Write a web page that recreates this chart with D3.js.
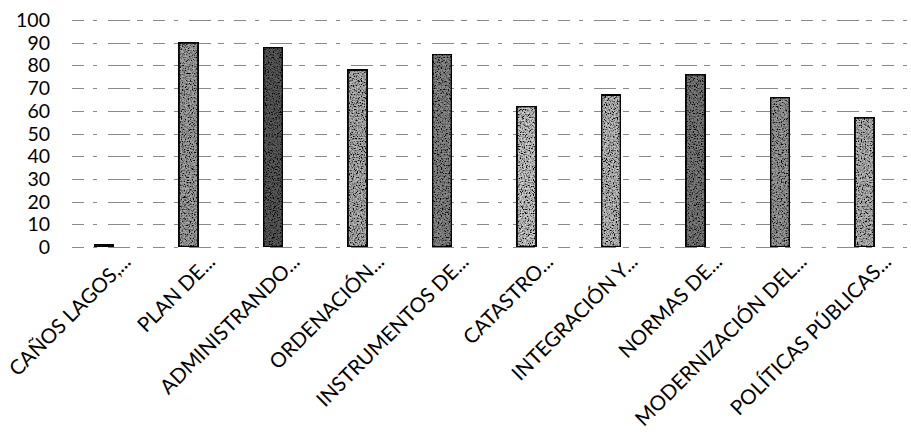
<!DOCTYPE html>
<html>
<head>
<meta charset="utf-8">
<script src="https://cdn.jsdelivr.net/npm/d3@7"></script>
<style>
  html, body { margin: 0; padding: 0; background: #fff; }
  svg { display: block; }
  text { font-family: Lato, "Open Sans", sans-serif; fill: #000; }
</style>
</head>
<body>
<svg id="chart" width="911" height="433"></svg>
<script>
// ---- data ----
const categories = [
  "CAÑOS LAGOS,...", "PLAN DE...", "ADMINISTRANDO...", "ORDENACIÓN...",
  "INSTRUMENTOS DE...", "CATASTRO...", "INTEGRACIÓN Y...", "NORMAS DE...",
  "MODERNIZACIÓN DEL...", "POLÍTICAS PÚBLICAS..."
];
const values = [1, 90, 88, 78, 85, 62, 67, 76, 66, 57];
const yTicks = [0, 10, 20, 30, 40, 50, 60, 70, 80, 90, 100];

// ---- styles (separate from data) ----
const barShades = ["#333", "#a8a8a8", "#5e5e5e", "#b8b8b8", "#8e8e8e", "#d0d0d0", "#c4c4c4", "#808080", "#a0a0a0", "#bcbcbc"];

const svg = d3.select("#chart");
const defs = svg.append("defs");
const f = defs.append("filter").attr("id", "grain")
  .attr("x", "0").attr("y", "0").attr("width", "100%").attr("height", "100%");
f.append("feTurbulence").attr("type", "fractalNoise").attr("baseFrequency", "0.75")
  .attr("numOctaves", 2).attr("seed", 7).attr("result", "noise");
f.append("feColorMatrix").attr("in", "noise").attr("type", "matrix")
  .attr("values", "0 0 0 0 0  0 0 0 0 0  0 0 0 0 0  3.4 0 0 0 -1.35").attr("result", "speck");
f.append("feComposite").attr("in", "speck").attr("in2", "SourceGraphic").attr("operator", "in").attr("result", "dots");
const m = f.append("feMerge");
m.append("feMergeNode").attr("in", "SourceGraphic");
m.append("feMergeNode").attr("in", "dots");

const x = d3.scaleBand().domain(categories).range([61.75, 906.75]).padding(0);
const y = d3.scaleLinear().domain([0, 100]).range([247, 20]);

// gridlines
svg.append("g").selectAll("line").data(yTicks).join("line")
  .attr("x1", 72).attr("x2", 908)
  .attr("y1", d => Math.round(y(d)) + 0.5).attr("y2", d => Math.round(y(d)) + 0.5)
  .attr("stroke", "#8a8a8a").attr("stroke-width", 1)
  .attr("stroke-dasharray", "12 9 4 11 22 7 6 10");

// y tick labels
svg.append("g").selectAll("text").data(yTicks).join("text")
  .attr("x", 50).attr("y", d => y(d)).attr("dy", "0.36em")
  .attr("text-anchor", "end").attr("font-size", 19.5).text(d => d);

// bars
const bw = x.bandwidth() * 0.23;
svg.append("g").selectAll("rect").data(values).join("rect")
  .attr("x", (d, i) => x(categories[i]) + x.bandwidth() / 2 - bw / 2)
  .attr("y", d => y(d))
  .attr("width", bw)
  .attr("height", d => y(0) - y(d))
  .attr("fill", (d, i) => barShades[i])
  .attr("filter", "url(#grain)")
  .attr("stroke", "#111").attr("stroke-width", 2.2);

// x labels
svg.append("g").selectAll("text").data(categories).join("text")
  .attr("transform", d => `translate(${x(d) + x.bandwidth() / 2 + 28},${263}) rotate(-45)`)
  .attr("text-anchor", "end")
  .attr("font-size", 20.5).text(d => d);
</script>
</body>
</html>
